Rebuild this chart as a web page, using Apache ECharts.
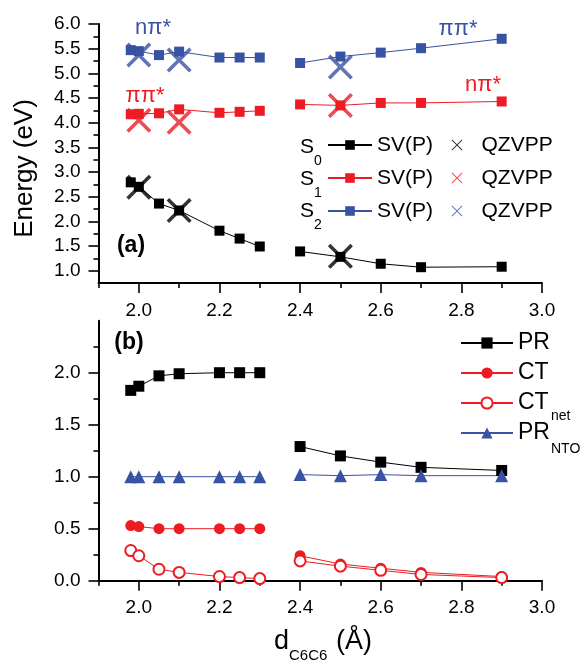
<!DOCTYPE html>
<html>
<head>
<meta charset="utf-8">
<script src="https://cdn.jsdelivr.net/npm/echarts@6/dist/echarts.min.js"></script>
<style>html,body{margin:0;padding:0;background:#fff}#c{width:582px;height:663px}</style>
</head>
<body>
<div id="c"></div>
<script>
// ---------- data ----------
const xs = [1.98, 2.0, 2.05, 2.1, 2.2, 2.25, 2.3, 2.4, 2.5, 2.6, 2.7, 2.9];
const breakAfter = 2.3; // the curves are not joined between 2.3 and 2.4
// panel (a): SV(P) energies
const s0SV = [2.79, 2.70, 2.36, 2.22, 1.81, 1.65, 1.49, 1.39, 1.28, 1.14, 1.07, 1.08];
const s1SV = [4.17, 4.18, 4.19, 4.27, 4.20, 4.22, 4.24, 4.37, 4.35, 4.40, 4.40, 4.43];
const s2SV = [5.47, 5.45, 5.37, 5.44, 5.32, 5.32, 5.32, 5.21, 5.34, 5.42, 5.51, 5.70];
// panel (a): QZVPP energies
const qzX = [2.0, 2.1, 2.5];
const s0QZ = [2.69, 2.22, 1.29];
const s1QZ = [4.05, 4.01, 4.35];
const s2QZ = [5.37, 5.27, 5.13];
// panel (b)
const pr    = [1.83, 1.87, 1.97, 1.99, 2.00, 2.00, 2.00, 1.29, 1.20, 1.14, 1.09, 1.06];
const ct    = [0.53, 0.52, 0.50, 0.50, 0.50, 0.50, 0.50, 0.24, 0.16, 0.12, 0.08, 0.04];
const ctNet = [0.29, 0.24, 0.11, 0.08, 0.04, 0.03, 0.02, 0.19, 0.14, 0.10, 0.06, 0.03];
const prNto = [1.00, 1.00, 1.00, 1.00, 1.00, 1.00, 1.00, 1.02, 1.01, 1.02, 1.01, 1.01];
// ticks
const xLabelTicks = [2.0, 2.2, 2.4, 2.6, 2.8, 3.0];
const xMinorTicks = [1.9, 2.1, 2.3, 2.5, 2.7, 2.9];
const yaLabelTicks = [1.0, 1.5, 2.0, 2.5, 3.0, 3.5, 4.0, 4.5, 5.0, 5.5, 6.0];
const yaMinorTicks = [1.25, 1.75, 2.25, 2.75, 3.25, 3.75, 4.25, 4.75, 5.25, 5.75];
const ybLabelTicks = [0.0, 0.5, 1.0, 1.5, 2.0];
const ybMinorTicks = [0.25, 0.75, 1.25, 1.75, 2.25];

// ---------- build ----------
const BLACK = '#000000', RED = '#ed1c24', BLUE = '#3953a4';
const FONT = 'Liberation Sans, Arial, sans-serif';

function pairs(x, y) {
  const out = [];
  for (let i = 0; i < x.length; i++) {
    if (i > 0 && Math.abs(x[i - 1] - breakAfter) < 1e-9) out.push([(x[i] + x[i - 1]) / 2, '-']);
    out.push([x[i], y[i]]);
  }
  return out;
}
function zip(x, y) { return x.map((v, i) => [v, y[i]]); }

const XMARK = 'path://M0,1L1,0L5,4L9,0L10,1L6,5L10,9L9,10L5,6L1,10L0,9L4,5Z';
const XTHIN = 'path://M0,0.6L0.6,0L5,4.4L9.4,0L10,0.6L5.6,5L10,9.4L9.4,10L5,5.6L0.6,10L0,9.4L4.4,5Z';

function mainX(gi) {
  return {
    type: 'value', gridIndex: gi, position: 'bottom', min: 1.9, max: 3.0, interval: 0.1,
    axisLine: { show: true, onZero: false, lineStyle: { color: BLACK, width: 2 } },
    axisTick: { show: true, length: 10, customValues: xLabelTicks, lineStyle: { color: BLACK, width: 1.6 } },
    axisLabel: { show: true, customValues: xLabelTicks, margin: 18, color: BLACK, fontSize: 19, fontFamily: FONT,
      formatter: v => v.toFixed(1) },
    splitLine: { show: false }
  };
}
function minorX(gi) {
  return {
    type: 'value', gridIndex: gi, position: 'bottom', min: 1.9, max: 3.0, interval: 0.1,
    axisLine: { show: false, onZero: false },
    axisTick: { show: true, length: 5, customValues: xMinorTicks, lineStyle: { color: BLACK, width: 1.6 } },
    axisLabel: { show: false }, splitLine: { show: false }
  };
}
function mainY(gi, min, max, labels) {
  return {
    type: 'value', gridIndex: gi, position: 'left', min: min, max: max, interval: 0.25,
    axisLine: { show: true, onZero: false, lineStyle: { color: BLACK, width: 2 } },
    axisTick: { show: true, length: 10, customValues: labels, lineStyle: { color: BLACK, width: 1.6 } },
    axisLabel: { show: true, customValues: labels, margin: 18, color: BLACK, fontSize: 19, fontFamily: FONT,
      formatter: v => v.toFixed(1) },
    splitLine: { show: false }
  };
}
function minorY(gi, min, max, minors) {
  return {
    type: 'value', gridIndex: gi, position: 'left', min: min, max: max, interval: 0.25,
    axisLine: { show: false, onZero: false },
    axisTick: { show: true, length: 5, customValues: minors, lineStyle: { color: BLACK, width: 1.6 } },
    axisLabel: { show: false }, splitLine: { show: false }
  };
}

function lineSeries(name, data, color, symbol, size, xi, yi, extra) {
  return Object.assign({
    name: name, type: 'line', xAxisIndex: xi, yAxisIndex: yi, data: data,
    symbol: symbol, symbolSize: size, showSymbol: true, connectNulls: false,
    lineStyle: { color: color, width: 1 },
    itemStyle: { color: color },
    emphasis: { disabled: true }, z: 3
  }, extra || {});
}
function xSeries(name, data, color) {
  return {
    name: name, type: 'scatter', xAxisIndex: 0, yAxisIndex: 0, data: data,
    symbol: XMARK, symbolSize: 25, itemStyle: { color: color },
    emphasis: { disabled: true }, z: 5
  };
}

const svNames = { S0sv: 'SV(P)', S1sv: 'SV(P)', S2sv: 'SV(P)' };
const qzNames = { S0qz: 'QZVPP', S1qz: 'QZVPP', S2qz: 'QZVPP' };
const bNames = { PR: 'PR', CT: 'CT', CTnet: 'CT', PRNTO: 'PR' };

function txt(text, x, y, color, size, opts) {
  return Object.assign({
    type: 'text', x: x, y: y, silent: true,
    style: Object.assign({ text: text, fill: color, fontSize: size, fontFamily: FONT,
      textAlign: 'center', textVerticalAlign: 'middle' }, (opts && opts.style) || {})
  }, (opts && opts.el) || {});
}
const L = { style: { textAlign: 'left' } };

const option = {
  animation: false,
  backgroundColor: '#ffffff',
  grid: [
    { left: 98.5, right: 40, top: 24, height: 259, outerBoundsMode: 'none' },
    { left: 98.5, right: 40, top: 320.7, height: 260, outerBoundsMode: 'none' }
  ],
  xAxis: [mainX(0), minorX(0), mainX(1), minorX(1)],
  yAxis: [
    mainY(0, 0.75, 6.0, yaLabelTicks), minorY(0, 0.75, 6.0, yaMinorTicks),
    mainY(1, 0, 2.5, ybLabelTicks), minorY(1, 0, 2.5, ybMinorTicks)
  ],
  legend: [
    { orient: 'vertical', left: 327, top: 134, padding: 0, itemGap: 11, itemWidth: 44, itemHeight: 12,
      data: ['S0sv', 'S1sv', 'S2sv'], formatter: n => svNames[n], selectedMode: false,
      textStyle: { color: BLACK, fontSize: 21, fontFamily: FONT, lineHeight: 22 } },
    { orient: 'vertical', left: 451.5, top: 134, padding: 0, itemGap: 11, itemWidth: 11, itemHeight: 11,
      data: [{ name: 'S0qz', icon: XTHIN }, { name: 'S1qz', icon: XTHIN }, { name: 'S2qz', icon: XTHIN }],
      formatter: n => qzNames[n], selectedMode: false,
      textStyle: { color: BLACK, fontSize: 21, fontFamily: FONT, lineHeight: 22, padding: [0, 0, 0, 14] } },
    { orient: 'vertical', left: 460, top: 331, padding: 0, itemGap: 6, itemWidth: 52, itemHeight: 14,
      data: ['PR', 'CT', 'CTnet', 'PRNTO'], formatter: n => bNames[n], selectedMode: false,
      textStyle: { color: BLACK, fontSize: 23, fontFamily: FONT, lineHeight: 24 } }
  ],
  series: [
    lineSeries('S0sv', pairs(xs, s0SV), BLACK, 'rect', 10, 0, 0),
    lineSeries('S1sv', pairs(xs, s1SV), RED, 'rect', 10, 0, 0),
    lineSeries('S2sv', pairs(xs, s2SV), BLUE, 'rect', 10, 0, 0),
    xSeries('S0qz', zip(qzX, s0QZ), BLACK),
    xSeries('S1qz', zip(qzX, s1QZ), RED),
    xSeries('S2qz', zip(qzX, s2QZ), BLUE),
    lineSeries('PR', pairs(xs, pr), BLACK, 'rect', 11, 2, 2),
    lineSeries('PRNTO', pairs(xs, prNto), BLUE, 'triangle', 13, 2, 2),
    lineSeries('CT', pairs(xs, ct), RED, 'circle', 11, 2, 2),
    lineSeries('CTnet', pairs(xs, ctNet), RED, 'emptyCircle', 11, 2, 2, { itemStyle: { color: RED, borderWidth: 1.5 } })
  ],
  graphic: [
    txt('Energy (eV)', 25, 168.5, BLACK, 26, { el: { rotation: Math.PI / 2 } }),
    txt('(a)', 131, 246, BLACK, 23, { style: { fontWeight: 'bold' } }),
    txt('(b)', 129, 343, BLACK, 23, { style: { fontWeight: 'bold' } }),
    txt('nπ*', 153, 28, BLUE, 22),
    txt('ππ*', 145, 96, RED, 22),
    txt('ππ*', 458, 29, BLUE, 22),
    txt('nπ*', 483, 85, RED, 22),
    txt('S', 300, 147, BLACK, 21, L),
    txt('0', 314, 161, BLACK, 14, L),
    txt('S', 300, 179.5, BLACK, 21, L),
    txt('1', 314, 193.5, BLACK, 14, L),
    txt('S', 300, 211, BLACK, 21, L),
    txt('2', 314, 225, BLACK, 14, L),
    txt('net', 551, 416, BLACK, 14, L),
    txt('NTO', 551, 449, BLACK, 14, L),
    txt('d', 274, 642, BLACK, 27, L),
    txt('C6C6', 289, 656, BLACK, 15, L),
    txt('(Å)', 336, 642, BLACK, 27, L)
  ]
};

const chart = echarts.init(document.getElementById('c'), null, { renderer: 'canvas' });
chart.setOption(option);
</script>
</body>
</html>
